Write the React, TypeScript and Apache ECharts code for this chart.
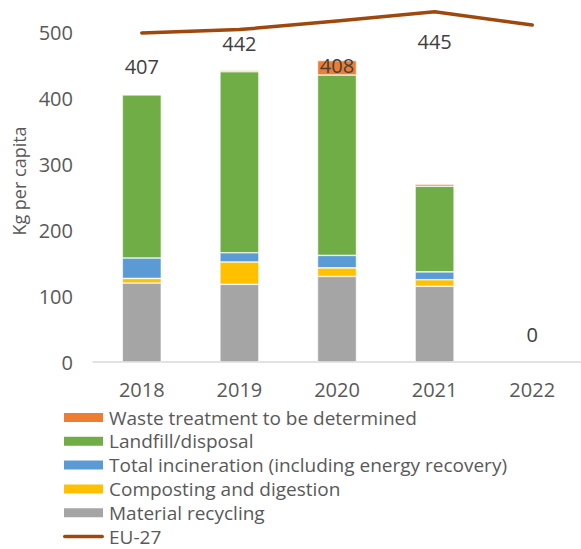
import React, { useEffect, useRef } from "react";
import * as echarts from "echarts";

const years = ["2018", "2019", "2020", "2021", "2022"];
const materialRecycling = [120, 118, 130, 115, null];
const composting = [7, 34, 13, 10, null];
const incineration = [31, 14, 19, 12, null];
const landfill = [248, 275, 274, 130, null];
const toBeDetermined = [0, 2, 22, 3, null];
const generatedTotals = [407, 442, 408, 445, 0];
const eu27 = [500, 505, 518, 532, 512];

const FONT = "Open Sans";
const TEXT = "#595959";
const LINE_ICON =
  "path://M0,0 M41,11 M1.8,3.7 L39.2,3.7 A1.8,1.8 0 0 1 39.2,7.3 L1.8,7.3 A1.8,1.8 0 0 1 1.8,3.7 Z";

export default function App() {
  const ref = useRef<HTMLDivElement>(null);
  useEffect(() => {
    if (!ref.current) return;
    const chart = echarts.init(ref.current, undefined, { renderer: "svg" });
    const bar = (name: string, data: (number | null)[], color: string) => ({
      name,
      type: "bar",
      stack: "t",
      data,
      barWidth: 39,
      itemStyle: { color, borderColor: "#ffffff", borderWidth: 0.6 },
    });
    chart.setOption({
      animation: false,
      textStyle: { fontFamily: FONT },
      grid: { left: 93, top: 0, width: 490, height: 362 },
      legend: {
        orient: "vertical",
        left: 62,
        top: 408,
        height: 170,
        padding: 0,
        itemWidth: 41,
        itemHeight: 11,
        itemGap: 4.8,
        textStyle: { fontFamily: FONT, fontSize: 19, color: TEXT },
        data: [
          { name: "Waste treatment to be determined", icon: "rect" },
          { name: "Landfill/disposal", icon: "rect" },
          { name: "Total incineration (including energy recovery)", icon: "rect" },
          { name: "Composting and digestion", icon: "rect" },
          { name: "Material recycling", icon: "rect" },
          { name: "EU-27", icon: LINE_ICON },
        ],
      },
      xAxis: {
        type: "category",
        data: years,
        axisLine: { lineStyle: { color: "#D9D9D9", width: 1.5 } },
        axisTick: { show: false },
        axisLabel: { color: TEXT, fontSize: 20, fontFamily: FONT, margin: 17 },
      },
      yAxis: {
        type: "value",
        min: 0,
        max: 550,
        interval: 100,
        name: "Kg per capita",
        nameLocation: "middle",
        nameGap: 64,
        nameTextStyle: { color: TEXT, fontSize: 18, fontFamily: FONT },
        splitLine: { show: false },
        axisLine: { show: false },
        axisTick: { show: false },
        axisLabel: { color: TEXT, fontSize: 20, fontFamily: FONT, margin: 20, showMaxLabel: false },
      },
      series: [
        bar("Material recycling", materialRecycling, "#A5A5A5"),
        bar("Composting and digestion", composting, "#FFC000"),
        bar("Total incineration (including energy recovery)", incineration, "#5B9BD5"),
        bar("Landfill/disposal", landfill, "#70AD47"),
        bar("Waste treatment to be determined", toBeDetermined, "#ED7D31"),
        {
          name: "EU-27",
          type: "line",
          data: eu27,
          symbol: "none",
          lineStyle: { color: "#9E480E", width: 3.5, cap: "round", join: "round" },
          itemStyle: { color: "#9E480E" },
          z: 5,
        },
        {
          name: "generated",
          type: "line",
          data: generatedTotals,
          symbol: "circle",
          symbolSize: 1,
          lineStyle: { opacity: 0, width: 0 },
          itemStyle: { color: "rgba(0,0,0,0)" },
          label: {
            show: true,
            position: "top",
            distance: 17,
            color: "#404040",
            fontSize: 20,
            fontFamily: FONT,
          },
          silent: true,
          z: 6,
        },
      ],
    });
    return () => chart.dispose();
  }, []);
  return (
    <div
      ref={ref}
      style={{ position: "fixed", left: 0, top: 0, width: 581, height: 549, background: "#fff" }}
    />
  );
}
